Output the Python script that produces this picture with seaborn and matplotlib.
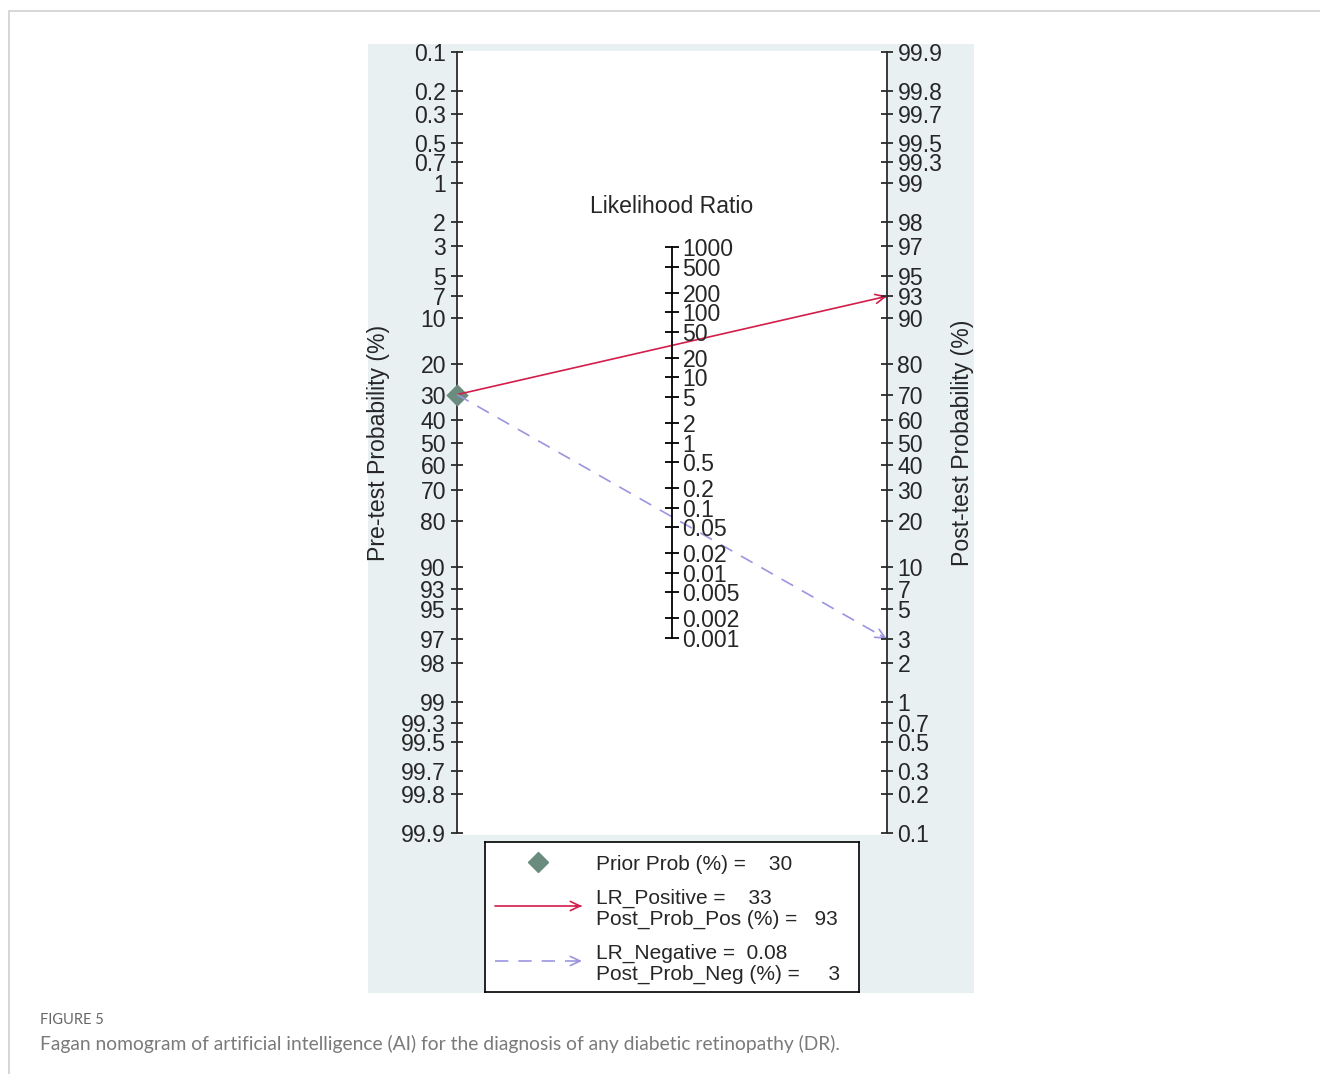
import numpy as np
import pandas as pd
import matplotlib
matplotlib.use("Agg")
import matplotlib.pyplot as plt
from matplotlib.patches import Rectangle
import seaborn as sns

# Fagan nomogram inputs
prior_prob = 30        # pre-test probability, %
lr_positive = 33
lr_negative = 0.08
post_prob_pos = 93     # post-test probability after a positive result, %
post_prob_neg = 3      # post-test probability after a negative result, %

prob_ticks = ["0.1", "0.2", "0.3", "0.5", "0.7", "1", "2", "3", "5", "7", "10",
              "20", "30", "40", "50", "60", "70", "80", "90", "93", "95", "97",
              "98", "99", "99.3", "99.5", "99.7", "99.8", "99.9"]
lr_ticks = ["1000", "500", "200", "100", "50", "20", "10", "5", "2", "1", "0.5",
            "0.2", "0.1", "0.05", "0.02", "0.01", "0.005", "0.002", "0.001"]

caption_head = "FIGURE 5"
caption_text = ("Fagan nomogram of artificial intelligence (AI) for the diagnosis "
                "of any diabetic retinopathy (DR).")


def logit(pct):
    p = np.asarray(pct, dtype=float) / 100.0
    return np.log(p / (1.0 - p))


sns.set_style("white")
plt.rcParams["font.family"] = ["Liberation Sans", "DejaVu Sans"]

W, H = 1320, 1074
fig = plt.figure(figsize=(W / 100, H / 100), dpi=100)
fig.patch.set_facecolor("white")


def fx(px):
    return px / W


def fy(py):
    return 1 - py / H


AXIS_COLOR = "#2b2b2b"
BG = "#E8F0F2"
RED = "#D31E4B"
PURPLE = "#9B95E0"
DIAMOND = "#6A8C7E"
FS = 16.6
LEG_FS = 15

# outer panel frame and graph region
fig.add_artist(Rectangle((fx(9), -0.1), 1.2, fy(11) + 0.1, transform=fig.transFigure,
                         facecolor="none", edgecolor="#CFCFCF", lw=1.2, zorder=-20))
fig.add_artist(Rectangle((fx(368), fy(993)), (974 - 368) / W, (993 - 44) / H,
                         transform=fig.transFigure, facecolor=BG, edgecolor="none",
                         zorder=-10))

# vertical scale: logit units, 0.1% .. 99.9%
U = float(logit(99.9))
top_px, bot_px, t_px, b_px = 51, 835, 52, 833
scale = (b_px - t_px) / (2 * U)
ylim = (-U - (bot_px - b_px) / scale, U + (t_px - top_px) / scale)

ax = fig.add_axes([fx(457), fy(bot_px), (887 - 457) / W, (bot_px - top_px) / H])
ax.set_facecolor("white")
ax.set_xlim(0, 1)
ax.set_ylim(*ylim)
ax.set_xticks([])
for side in ("top", "bottom", "right"):
    ax.spines[side].set_visible(False)
ax.spines["left"].set_color(AXIS_COLOR)
ax.spines["left"].set_linewidth(1.3)
ax.spines["left"].set_bounds(-U, U)

prob_vals = np.array([float(t) for t in prob_ticks])
ax.set_yticks(-logit(prob_vals))
ax.set_yticklabels(prob_ticks)
ax.tick_params(axis="y", direction="inout", length=9, width=1.3, color=AXIS_COLOR,
               labelsize=FS, pad=3.5, left=True)

# post-test axis on the right
ax2 = ax.twinx()
ax2.set_ylim(*ylim)
for side in ("top", "bottom", "left"):
    ax2.spines[side].set_visible(False)
ax2.spines["right"].set_color(AXIS_COLOR)
ax2.spines["right"].set_linewidth(1.3)
ax2.spines["right"].set_bounds(-U, U)
ax2.set_yticks(logit(prob_vals))
ax2.set_yticklabels(prob_ticks)
ax2.tick_params(axis="y", direction="inout", length=9, width=1.3, color=AXIS_COLOR,
                labelsize=FS, pad=3.0, right=True)
ax2.grid(False)
ax.grid(False)

# likelihood-ratio axis in the middle
lr_vals = np.array([float(t) for t in lr_ticks])
axl = fig.add_axes([fx(672), fy(bot_px), 1e-6, (bot_px - top_px) / H])
axl.set_ylim(*ylim)
axl.set_xticks([])
axl.patch.set_visible(False)
for side in ("top", "bottom", "left"):
    axl.spines[side].set_visible(False)
axl.spines["right"].set_color("black")
axl.spines["right"].set_linewidth(1.3)
axl.spines["right"].set_bounds(np.log(lr_vals.min()) / 2, np.log(lr_vals.max()) / 2)
axl.yaxis.tick_right()
axl.set_yticks(np.log(lr_vals) / 2)
axl.set_yticklabels(lr_ticks)
axl.tick_params(axis="y", direction="inout", length=10, width=1.3, color="black",
                labelsize=FS, pad=2.5)
axl.grid(False)

# nomogram lines
u_pre = float(-logit(prior_prob))
u_pos = float(logit(post_prob_pos))
u_neg = float(logit(post_prob_neg))

lines = pd.DataFrame({
    "x": [0, 1, 0, 1],
    "u": [u_pre, u_pos, u_pre, u_neg],
    "result": ["Positive", "Positive", "Negative", "Negative"],
})
sns.lineplot(data=lines[lines.result == "Positive"], x="x", y="u", ax=ax,
             color=RED, linewidth=1.2, zorder=4)
sns.lineplot(data=lines[lines.result == "Negative"], x="x", y="u", ax=ax,
             color=PURPLE, linewidth=1.2, zorder=4)
ax.lines[-1].set_dashes((8, 6))
ax.set_xlabel("")
ax.set_ylabel("")


def arrow_head(axis, x_end, y_end, x_from, y_from, color):
    axis.annotate("", xy=(x_end, y_end), xytext=(x_from, y_from),
                  arrowprops=dict(arrowstyle="->,head_length=0.7,head_width=0.33",
                                  color=color, lw=1.2, shrinkA=0, shrinkB=0,
                                  mutation_scale=10),
                  annotation_clip=False, zorder=5)


for u_end, col in ((u_pos, RED), (u_neg, PURPLE)):
    dx = 0.015
    arrow_head(ax, 1, u_end, 1 - dx, u_end - (u_end - u_pre) * dx, col)

sns.scatterplot(x=[0], y=[u_pre], ax=ax, marker="D", s=130, color=DIAMOND,
                edgecolor=DIAMOND, linewidth=0, clip_on=False, zorder=3)

# titles
fig.text(fx(672), fy(207), "Likelihood Ratio", ha="center", va="center", fontsize=FS)
fig.text(fx(378), fy(443), "Pre-test Probability (%)", rotation=90,
         ha="center", va="center", fontsize=FS)
fig.text(fx(962), fy(443), "Post-test Probability (%)", rotation=90,
         ha="center", va="center", fontsize=FS)

# legend box
lx0, ly0, lx1, ly1 = 485, 842, 859, 992
lax = fig.add_axes([fx(lx0), fy(ly1), (lx1 - lx0) / W, (ly1 - ly0) / H])
lax.set_xlim(0, lx1 - lx0)
lax.set_ylim(ly1 - ly0, 0)
lax.set_xticks([])
lax.set_yticks([])
lax.set_facecolor("white")
for sp in lax.spines.values():
    sp.set_visible(True)
    sp.set_color("black")
    sp.set_linewidth(1.2)

lax.plot([53], [20], marker="D", markersize=10.5, color=DIAMOND, linestyle="none")
lax.plot([10, 96], [64, 64], color=RED, linewidth=1.2)
arrow_head(lax, 97, 64, 90, 64, RED)
neg_line, = lax.plot([10, 93], [119, 119], color=PURPLE, linewidth=1.2)
neg_line.set_dashes((8, 6))
arrow_head(lax, 97, 119, 92, 119, PURPLE)

tx = 111
dy = 2.5
lax.text(tx, 20 + dy, f"Prior Prob (%) =    {prior_prob}", va="center", fontsize=LEG_FS)
lax.text(tx, 54 + dy, f"LR_Positive =    {lr_positive}", va="center", fontsize=LEG_FS)
lax.text(tx, 75 + dy, f"Post_Prob_Pos (%) =   {post_prob_pos}", va="center",
         fontsize=LEG_FS)
lax.text(tx, 109 + dy, f"LR_Negative =  {lr_negative}", va="center", fontsize=LEG_FS)
lax.text(tx, 130 + dy, f"Post_Prob_Neg (%) =     {post_prob_neg}", va="center",
         fontsize=LEG_FS)

# caption
fig.text(fx(40), fy(1020), caption_head, ha="left", va="center", fontsize=10.5,
         color="#666666", family=["Lato", "DejaVu Sans"])
fig.text(fx(40), fy(1044), caption_text, ha="left", va="center", fontsize=13.9,
         color="#7a7a7a", family=["Lato", "DejaVu Sans"])

fig.savefig("out.png", dpi=100, facecolor="white")
